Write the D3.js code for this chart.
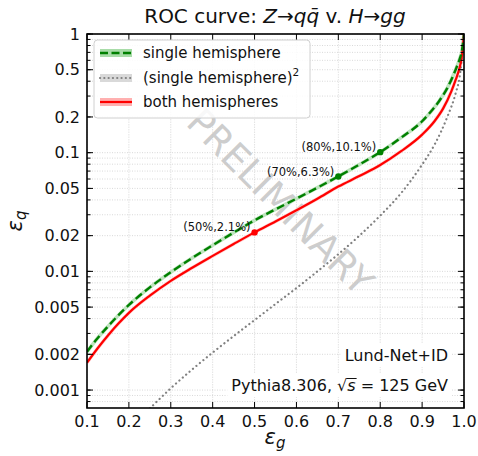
<!DOCTYPE html>
<html><head><meta charset="utf-8">
<script src="https://cdn.jsdelivr.net/npm/d3@7"></script>
<style>body{margin:0;background:#fff}svg{display:block;font-family:"DejaVu Sans",sans-serif}</style>
</head><body><svg id="c" width="478" height="456"></svg>
<script>
// ---- data ----
const singleX = [0.1,0.12,0.15,0.2,0.25,0.3,0.35,0.4,0.45,0.5,0.55,0.6,0.65,0.7,0.75,0.8,0.85,0.9,0.92,0.94,0.96,0.98,0.99,0.995,1.0];
const singleY = [0.0021,0.0026,0.00344,0.00521,0.00733,0.00984,0.01288,0.0166,0.0212,0.0269,0.0333,0.0410,0.0507,0.0631,0.0794,0.101,0.134,0.184,0.22,0.27,0.35,0.5,0.62,0.72,1.0];
const squaredX = [0.25,0.3,0.35,0.4,0.45,0.5,0.55,0.6,0.65,0.7,0.75,0.8,0.85,0.9,0.93,0.96,0.98,0.99,1.0];
const squaredY = [0.0007,0.001035,0.00148,0.00207,0.00285,0.00389,0.00531,0.00724,0.0100,0.01396,0.01995,0.0295,0.0457,0.0794,0.1175,0.1995,0.316,0.447,1.0];
const bothX = [0.1,0.125,0.15,0.175,0.2,0.25,0.3,0.35,0.4,0.45,0.5,0.55,0.6,0.65,0.7,0.75,0.8,0.85,0.9,0.93,0.95,0.97,0.98,0.99,0.995,1.0];
const bothY = [0.0017,0.00224,0.00288,0.00363,0.00447,0.00624,0.00832,0.01067,0.0135,0.0170,0.0213,0.0263,0.0327,0.0409,0.0518,0.0635,0.0787,0.103,0.142,0.185,0.235,0.33,0.41,0.53,0.65,1.0];
const markX = [0.5,0.7,0.8];
const markY = [0.0213,0.063,0.101];
const markLabels = ["(50%,2.1%)","(70%,6.3%)","(80%,10.1%)"];
const markSeries = ["both","single","single"];
const xTicks = [0.1,0.2,0.3,0.4,0.5,0.6,0.7,0.8,0.9,1.0];
const xTickLabels = ["0.1","0.2","0.3","0.4","0.5","0.6","0.7","0.8","0.9","1.0"];
const yTicks = [1,0.5,0.2,0.1,0.05,0.02,0.01,0.005,0.002,0.001];
const yTickLabels = ["1","0.5","0.2","0.1","0.05","0.02","0.01","0.005","0.002","0.001"];
const legendLabels = ["single hemisphere","(single hemisphere)","both hemispheres"];

// ---- layout ----
const L=87,R=464,T=34,B=408;
const svg=d3.select("#c");
const x=d3.scaleLinear().domain([0.1,1]).range([L,R]);
const y=d3.scaleLog().domain([0.000706,1]).range([B,T]);

const col={single:"#008000",squared:"#808080",both:"#ff0000"};

// minor y ticks
const yMinor=[];
for(let e=-4;e<=0;e++){for(let m=1;m<10;m++){const v=m*Math.pow(10,e);if(v>=0.000706&&v<=1)yMinor.push(v);}}

// grid
const g=svg.append("g");
g.selectAll(".vg").data(xTicks).join("line").attr("x1",d=>x(d)).attr("x2",d=>x(d)).attr("y1",T).attr("y2",B)
 .attr("stroke","#dcdcdc").attr("stroke-width",0.8).attr("stroke-dasharray","1.5,1");
g.selectAll(".hg").data(yMinor).join("line").attr("x1",L).attr("x2",R).attr("y1",d=>y(d)).attr("y2",d=>y(d))
 .attr("stroke","#cfcfcf").attr("stroke-width",0.8).attr("stroke-dasharray","1,1.5");

// clip
svg.append("clipPath").attr("id","clip").append("rect").attr("x",L).attr("y",T).attr("width",R-L).attr("height",B-T);

// watermark
svg.append("text").attr("transform","translate(280,202) rotate(45)").attr("text-anchor","middle").attr("dominant-baseline","central")
 .attr("font-size",37).attr("fill","#c4c4c4").attr("fill-opacity",0.85).text("PRELIMINARY");

const line=d3.line().x(d=>x(d[0])).y(d=>y(d[1])).curve(d3.curveMonotoneX);
const cg=svg.append("g").attr("clip-path","url(#clip)");
const sData=singleX.map((v,i)=>[v,singleY[i]]);
const qData=squaredX.map((v,i)=>[v,squaredY[i]]);
const bData=bothX.map((v,i)=>[v,bothY[i]]);

// bands (faint halo)
cg.append("path").attr("d",line(sData)).attr("fill","none").attr("stroke","#bfe4bf").attr("stroke-width",3.6);
cg.append("path").attr("d",line(bData)).attr("fill","none").attr("stroke","#ffcccc").attr("stroke-width",3.4);
cg.append("path").attr("d",line(qData)).attr("fill","none").attr("stroke","#808080").attr("stroke-width",2.2)
 .attr("stroke-dasharray","0.1,4.4").attr("stroke-linecap","round");
cg.append("path").attr("d",line(bData)).attr("fill","none").attr("stroke",col.both).attr("stroke-width",2.2);
cg.append("path").attr("d",line(sData)).attr("fill","none").attr("stroke",col.single).attr("stroke-width",2.4)
 .attr("stroke-dasharray","8,4");

// markers + labels
markX.forEach((v,i)=>{
  cg.append("circle").attr("cx",x(v)).attr("cy",y(markY[i])).attr("r",3.2).attr("fill",col[markSeries[i]]);
  svg.append("text").attr("x",x(v)-4).attr("y",y(markY[i])-1).attr("text-anchor","end").attr("font-size",11.5).attr("fill","#111").text(markLabels[i]);
});

// bottom right texts
const t1=svg.append("text").attr("x",448).attr("y",361).attr("text-anchor","end").attr("font-size",16).attr("fill","#111").text("Lund-Net+ID");
const t2=svg.append("text").attr("x",448).attr("y",391).attr("text-anchor","end").attr("font-size",16).attr("fill","#111");
t2.append("tspan").text("Pythia8.306, √");
t2.append("tspan").attr("font-style","italic").text("s");
t2.append("tspan").text(" = 125 GeV");
[t1,t2].forEach(t=>{const bb=t.node().getBBox();svg.insert("rect",function(){return t.node();}).attr("x",bb.x-4).attr("y",bb.y-3).attr("width",bb.width+8).attr("height",bb.height+5).attr("fill","#fff");});
{const n=t2.node();const s0=n.getStartPositionOfChar(14);const e0=n.getEndPositionOfChar(14);const bb=n.getBBox();
 svg.append("line").attr("x1",s0.x-0.5).attr("x2",e0.x+1).attr("y1",bb.y+2.5).attr("y2",bb.y+2.5).attr("stroke","#111").attr("stroke-width",1);}

// frame
svg.append("rect").attr("x",L).attr("y",T).attr("width",R-L).attr("height",B-T).attr("fill","none").attr("stroke","#000").attr("stroke-width",1.6);

// ticks (inward, four sides)
const tk=svg.append("g").attr("stroke","#000").attr("stroke-width",1);
xTicks.forEach(v=>{tk.append("line").attr("x1",x(v)).attr("x2",x(v)).attr("y1",B).attr("y2",B-6);
 tk.append("line").attr("x1",x(v)).attr("x2",x(v)).attr("y1",T).attr("y2",T+6);});
yMinor.forEach(v=>{
 tk.append("line").attr("x1",L).attr("x2",L+3.5).attr("y1",y(v)).attr("y2",y(v));
 tk.append("line").attr("x1",R).attr("x2",R-3.5).attr("y1",y(v)).attr("y2",y(v));});
yTicks.forEach(v=>{tk.append("line").attr("x1",L).attr("x2",L+6).attr("y1",y(v)).attr("y2",y(v));
 tk.append("line").attr("x1",R).attr("x2",R-6).attr("y1",y(v)).attr("y2",y(v));});

// tick labels
xTicks.forEach((v,i)=>svg.append("text").attr("x",x(v)).attr("y",427).attr("text-anchor","middle").attr("font-size",16).attr("fill","#111").text(xTickLabels[i]));
yTicks.forEach((v,i)=>svg.append("text").attr("x",80).attr("y",y(v)).attr("dy","0.36em").attr("text-anchor","end").attr("font-size",16).attr("fill","#111").text(yTickLabels[i]));

// axis labels
const xl=svg.append("text").attr("x",275).attr("y",444).attr("text-anchor","middle").attr("font-size",21).attr("fill","#111");
xl.append("tspan").attr("font-style","italic").text("ε");
xl.append("tspan").attr("font-style","italic").attr("font-size",15).attr("dy",4).text("g");
const yl=svg.append("text").attr("transform","translate(22,221) rotate(-90)").attr("text-anchor","middle").attr("font-size",21).attr("fill","#111");
yl.append("tspan").attr("font-style","italic").text("ε");
yl.append("tspan").attr("font-style","italic").attr("font-size",15).attr("dy",4).text("q");

// title
const ti=svg.append("text").attr("x",275).attr("y",23).attr("text-anchor","middle").attr("font-size",20).attr("fill","#111");
ti.append("tspan").text("ROC curve: ");
ti.append("tspan").attr("font-style","italic").text("Z");
ti.append("tspan").text("→");
ti.append("tspan").attr("font-style","italic").text("qq\u0304");
ti.append("tspan").text(" v. ");
ti.append("tspan").attr("font-style","italic").text("H");
ti.append("tspan").text("→");
ti.append("tspan").attr("font-style","italic").text("gg");

// legend
const lg=svg.append("g");
lg.append("rect").attr("x",94).attr("y",40).attr("width",216).attr("height",78).attr("rx",3.5)
 .attr("fill","#fff").attr("fill-opacity",0.85).attr("stroke","#d0d0d0").attr("stroke-width",1);
const lys=[53,78,102];
const bandCol=["#a8dca8","#d9d9d9","#ffb0b0"];
const keys=["single","squared","both"];
keys.forEach((k,i)=>{
  lg.append("rect").attr("x",100).attr("y",lys[i]-4).attr("width",32).attr("height",8).attr("fill",bandCol[i]);
  const ln=lg.append("line").attr("x1",100).attr("x2",132).attr("y1",lys[i]).attr("y2",lys[i]).attr("stroke",col[k]);
  if(k==="single")ln.attr("stroke-width",2.6).attr("stroke-dasharray","8,3.5");
  else if(k==="squared")ln.attr("stroke-width",2.2).attr("stroke-dasharray","0.1,4.2").attr("stroke-linecap","round");
  else ln.attr("stroke-width",2.2);
  const tx=lg.append("text").attr("x",143).attr("y",lys[i]+5).attr("font-size",15).attr("fill","#111").text(legendLabels[i]);
  if(k==="squared")tx.append("tspan").attr("font-size",10.5).attr("dy",-7).text("2");
});
</script></body></html>
